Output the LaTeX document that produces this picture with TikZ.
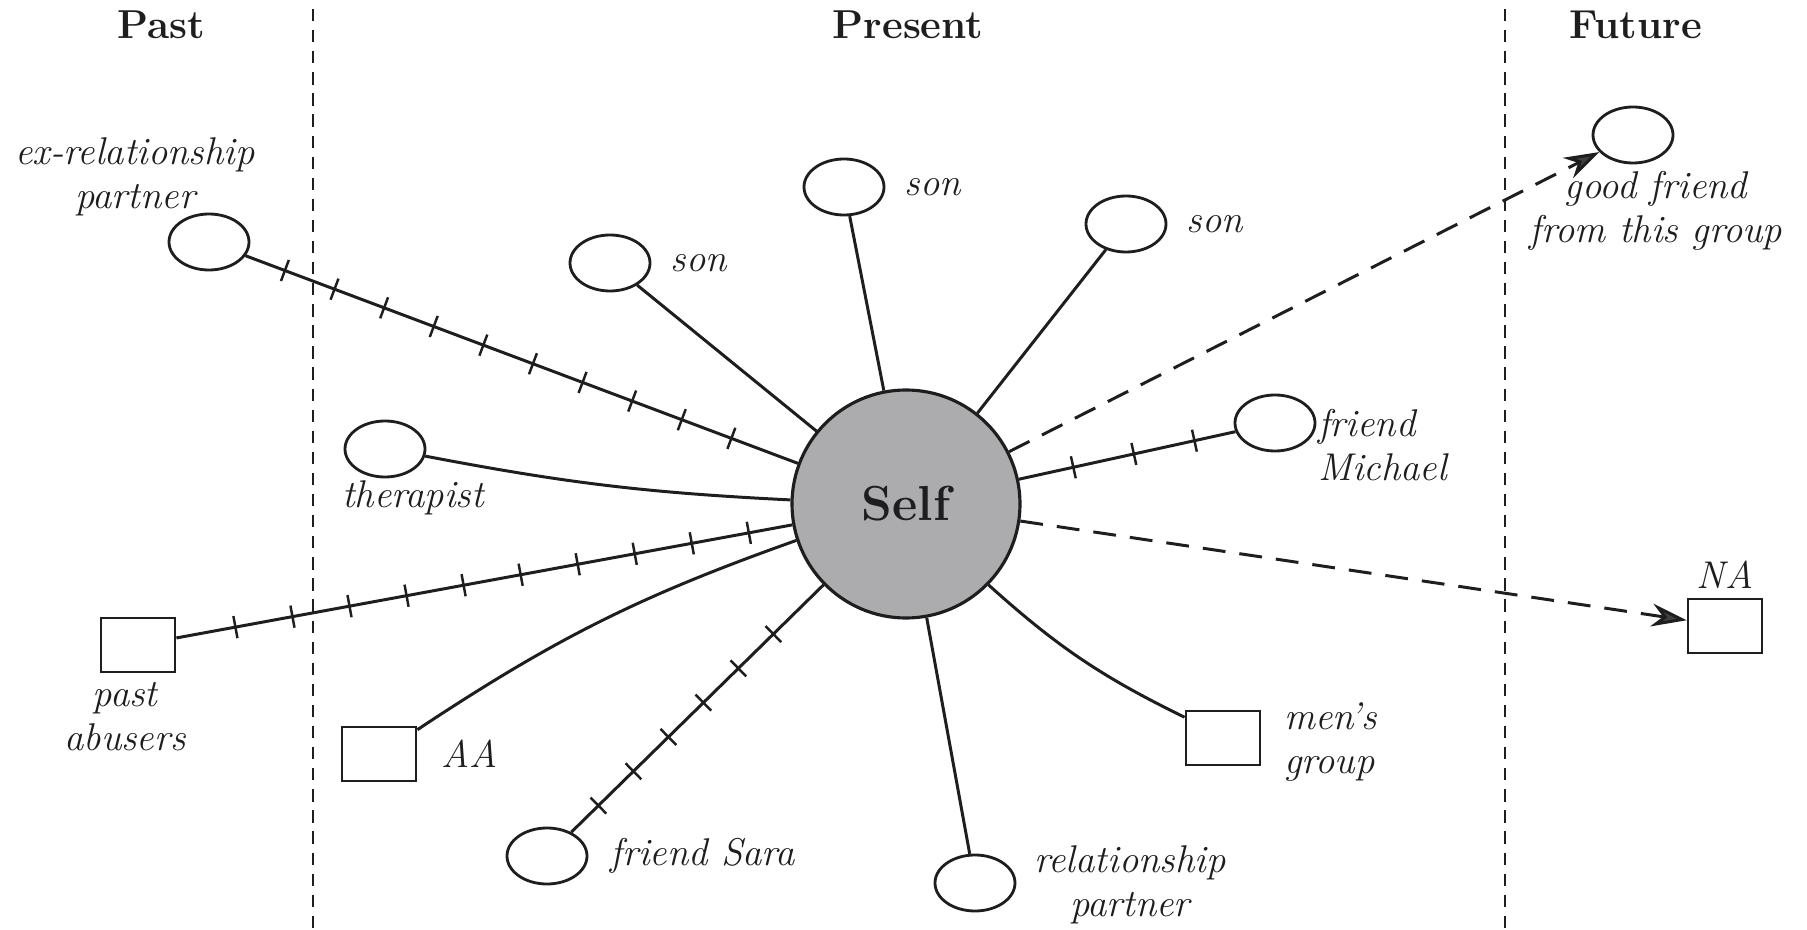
\documentclass[tikz,border=0pt]{standalone}
\usetikzlibrary{positioning,shapes.geometric,arrows.meta,decorations.markings}
\definecolor{selfgray}{RGB}{172,172,175}
\definecolor{ink}{RGB}{30,30,30}
\tikzset{
  person/.style={ellipse, draw=ink, line width=0.8pt, minimum width=0.80cm, minimum height=0.56cm, inner sep=0pt},
  group/.style={rectangle, draw=ink, line width=0.8pt, minimum width=0.74cm, minimum height=0.54cm, inner sep=0pt},
  lbl/.style={font=\fontsize{11}{12.5}\selectfont\itshape, text=ink, inner sep=1pt},
  era/.style={font=\fontsize{11.5}{13}\selectfont\bfseries, text=ink},
  divider/.style={draw=ink, line width=0.5pt, dash pattern=on 3.5pt off 2.5pt},
  tie/.style={draw=ink, line width=0.85pt},
  tense/.style={tie, postaction={decorate}, decoration={markings,
      mark=between positions #1 with {\draw[ink, line width=0.7pt] (0,-3.2pt) -- (0,3.2pt);}}},
  wish/.style={draw=ink, line width=0.85pt, dash pattern=on 6.5pt off 4pt,
      -{Stealth[length=10pt, width=6.5pt, fill=black!75]}},
}
\begin{document}
\begin{tikzpicture}
  \useasboundingbox (0,0) rectangle (18.07,9.29);
  \node[era] (past) at (1.61,9.04) {Past};
  \node[era] (present) at (9.08,9.04) {Present};
  \node[era] (future) at (16.36,9.04) {Future};
  \coordinate (cut1top) at (3.13,9.20); \coordinate (cut1bot) at (3.13,0);
  \coordinate (cut2top) at (15.05,9.20); \coordinate (cut2bot) at (15.05,0);
  \draw[divider] (cut1top) -- (cut1bot); \draw[divider] (cut2top) -- (cut2bot);

  \node (self) at (9.06,4.25) [circle, draw=ink, line width=0.9pt, fill=selfgray,
    minimum size=2.28cm, font=\fontsize{14}{16}\selectfont\bfseries, text=ink] {Self};

  \node[person] (expartner) at (2.09,6.87) {};
  \node[person] (son1) at (6.10,6.66) {};
  \node[person] (son2) at (8.44,7.42) {};
  \node[person] (son3) at (11.26,7.05) {};
  \node[person] (goodfriend) at (16.33,7.94) {};
  \node[person] (michael) at (12.75,5.06) {};
  \node[person] (therapist) at (3.85,4.80) {};
  \node[group] (abusers) at (1.38,2.84) {};
  \node[group] (aa) at (3.79,1.75) {};
  \node[person] (sara) at (5.47,0.73) {};
  \node[person] (partner) at (9.75,0.46) {};
  \node[group] (mens) at (12.23,1.91) {};
  \node[group] (na) at (17.25,3.03) {};

  \node[lbl, align=center] (expartnerlbl) at (1.35,7.52) {ex-relationship\\partner};
  \node[lbl, right=0.15cm of son1] (son1lbl) {son};
  \node[lbl, right=0.15cm of son2] (son2lbl) {son};
  \node[lbl, right=0.15cm of son3] (son3lbl) {son};
  \node[lbl, align=center] (goodfriendlbl) at (16.56,7.18) {good friend\\from this group};
  \node[lbl, align=left, anchor=west] (michaellbl) at (13.14,4.84) {friend\\Michael};
  \node[lbl] (therapistlbl) at (4.13,4.31) {therapist};
  \node[lbl, align=center] (abuserslbl) at (1.25,2.12) {past\\abusers};
  \node[lbl, right=0.2cm of aa] (aalbl) {AA};
  \node[lbl, right=0.18cm of sara] (saralbl) {friend Sara};
  \node[lbl, align=center] (partnerlbl) at (11.30,0.44) {relationship\\partner};
  \node[lbl, align=left, anchor=west] (menslbl) at (12.80,1.87) {men's\\group};
  \node[lbl, above=0.05cm of na] (nalbl) {NA};

  \draw[tense=0.42cm and -0.4cm step 0.53cm] (expartner) -- (self);
  \draw[tense=0.6cm and -0.4cm step 0.58cm] (abusers) -- (self);
  \draw[tense=0.38cm and -0.3cm step 0.49cm] (sara) -- (self);
  \draw[tense=0.42cm and -0.4cm step 0.62cm] (michael) -- (self);
  \draw[tie] (son1) -- (self);
  \draw[tie] (son2) -- (self);
  \draw[tie] (son3) -- (self);
  \draw[tie] (therapist) to[bend right=4] (self);
  \draw[tie] (aa) to[bend left=7] (self);
  \draw[tie] (partner) -- (self);
  \draw[tie] (mens) to[bend left=8] (self);
  \draw[wish] (self) -- (goodfriend);
  \draw[wish] (self) -- (na);
\end{tikzpicture}
\end{document}
